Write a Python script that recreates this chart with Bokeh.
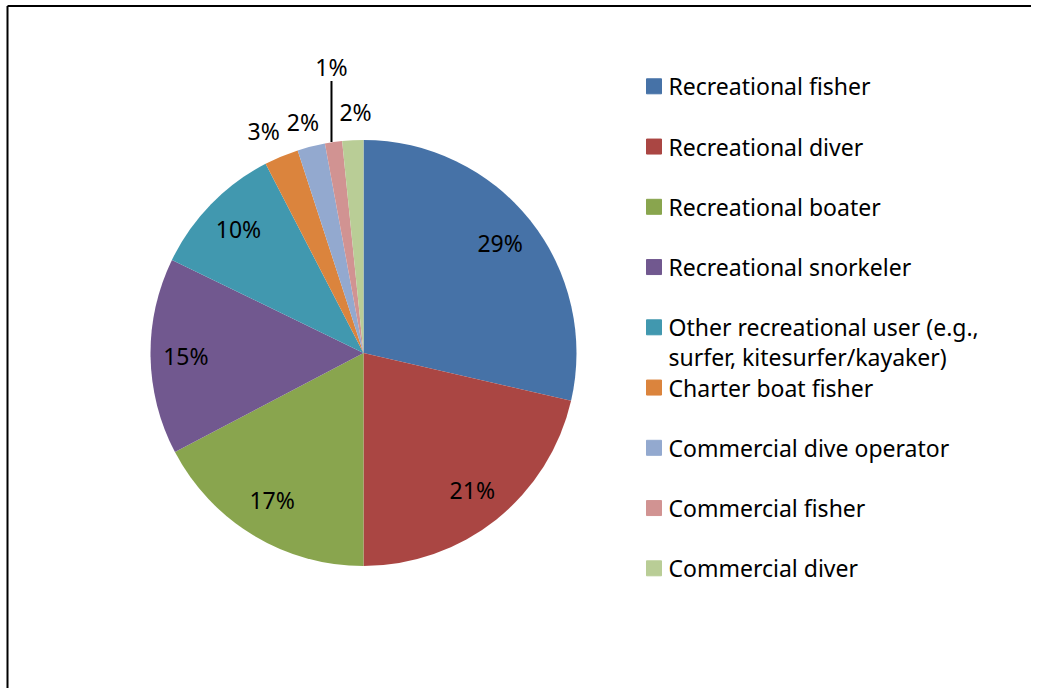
import numpy as np
from bokeh.plotting import figure
from bokeh.models import Range1d
from bokeh.core.properties import value
from bokeh.embed import file_html
from bokeh.resources import INLINE

# ---------------- data ----------------
categories = [
    "Recreational fisher",
    "Recreational diver",
    "Recreational boater",
    "Recreational snorkeler",
    "Other recreational user (e.g.,\nsurfer, kitesurfer/kayaker)",
    "Charter boat fisher",
    "Commercial dive operator",
    "Commercial fisher",
    "Commercial diver",
]
shares = [28.6, 21.4, 17.3, 14.9, 10.2, 2.6, 2.1, 1.3, 1.6]
pct_labels = ["29%", "21%", "17%", "15%", "10%", "3%", "2%", "1%", "2%"]
colors = ["#4672A7", "#AA4643", "#89A54E", "#71588F", "#4198AF",
          "#DB843D", "#93A9CF", "#D19392", "#B9CD96"]

# ---------------- style / layout ----------------
W, H = 1031, 688
FONT = "Noto Sans"
FS = "23px"


def sy(y_screen):
    return H - y_screen


cx, cy, R = 363.0, sy(352.5), 213.0
label_r = [0.82, 0.82, 0.82, 0.82, 0.82, 1.13, 1.12, None, 1.12]
label_dx = [0, 0, -1, -3, 0, -7, -2, 0, 4]
label_dy = [1, 0, 2, 0, 2, 0, 0, 0, 3]
callout = [False] * 7 + [True, False]

p = figure(width=W, height=H, output_backend="svg", toolbar_location=None,
           x_range=Range1d(0, W), y_range=Range1d(0, H),
           min_border=0, outline_line_color=None)
p.axis.visible = False
p.grid.visible = False

vals = np.array(shares, dtype=float)
frac = vals / vals.sum()
cum = np.concatenate([[0.0], np.cumsum(frac)])
start = np.pi / 2 - 2 * np.pi * cum[1:]
end = np.pi / 2 - 2 * np.pi * cum[:-1]

p.wedge(x=cx, y=cy, radius=R, start_angle=start, end_angle=end,
        fill_color=colors, line_color=None)

# percentage labels
lx, ly = [], []
seg = []
for i in range(len(shares)):
    mid = np.pi / 2 - 2 * np.pi * (cum[i] + cum[i + 1]) / 2
    if callout[i]:
        ex, ey = cx + R * np.cos(mid), cy + R * np.sin(mid)
        seg.append((ex - 2, ey, ex - 2, ey + 61))
        lx.append(ex - 2)
        ly.append(ey + 75)
    else:
        lx.append(cx + label_r[i] * R * np.cos(mid) + label_dx[i])
        ly.append(cy + label_r[i] * R * np.sin(mid) + label_dy[i])

p.text(x=lx, y=ly, text=pct_labels, text_align="center", text_baseline="middle",
       text_font=value(FONT), text_font_size=FS, text_color="black")
for (x0, y0, x1, y1) in seg:
    p.segment(x0=[x0], y0=[y0], x1=[x1], y1=[y1], line_color="black", line_width=2)

# legend (manual)
row0 = sy(85.8)
step = 60.25
mx, my, tx, ty, tt = [], [], [], [], []
for i, lab in enumerate(categories):
    yrow = row0 - i * step
    mx.append(653.5)
    my.append(yrow)
    for j, line in enumerate(lab.split("\n")):
        tx.append(668)
        ty.append(yrow - j * 30)
        tt.append(line)
p.rect(x=mx, y=my, width=15, height=15, fill_color=colors, line_color=colors)
p.text(x=tx, y=ty, text=tt, text_align="left", text_baseline="middle",
       text_font=value(FONT), text_font_size=FS, text_color="black")

# chart frame (left and top edges visible)
p.segment(x0=[7, 7], y0=[0, sy(5.5)], x1=[7, W], y1=[sy(5.5), sy(5.5)],
          line_color="black", line_width=2)

open("out.html", "w").write(file_html(p, INLINE))
